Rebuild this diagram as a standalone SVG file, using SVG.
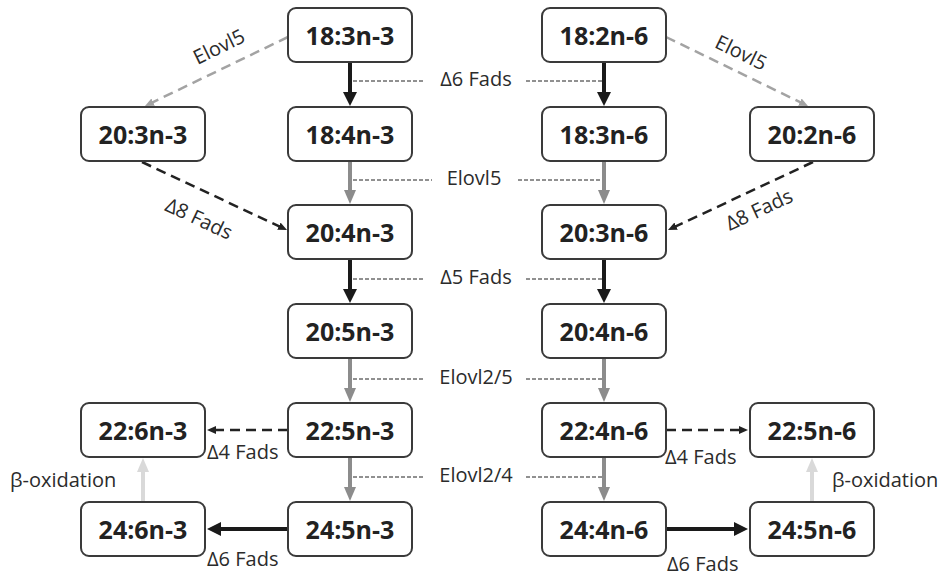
<svg xmlns="http://www.w3.org/2000/svg" width="941" height="578" viewBox="0 0 941 578">
<style>
.box{fill:#fff;stroke:#3a3a3a;stroke-width:2}
.nt{font-family:"Open Sans","Liberation Sans",sans-serif;font-weight:bold;font-size:25px;fill:#222;text-anchor:middle}
.lb{font-family:"Open Sans","Liberation Sans",sans-serif;font-size:20px;fill:#2b2b2b}
.mid{text-anchor:middle}
.blk{stroke:#1a1a1a;stroke-width:4;fill:none}
.gry{stroke:#8c8c8c;stroke-width:4;fill:none}
.lgt{stroke:#d9d9d9;stroke-width:4;fill:none}
.dblk{stroke:#222;stroke-width:2.5;stroke-dasharray:10,6;fill:none}
.dgry{stroke:#a3a3a3;stroke-width:2.5;stroke-dasharray:10,6;fill:none}
.lead{stroke:#222;stroke-width:1;stroke-dasharray:4,2;fill:none}
</style>
<defs>
<marker id="mBlk" markerUnits="userSpaceOnUse" markerWidth="16" markerHeight="16" refX="4" refY="7" orient="auto"><path d="M0,0 L14,7 L0,14 z" fill="#1a1a1a"/></marker>
<marker id="mGry" markerUnits="userSpaceOnUse" markerWidth="16" markerHeight="16" refX="4" refY="6" orient="auto"><path d="M0,0 L14,6 L0,12 z" fill="#8c8c8c"/></marker>
<marker id="mLgt" markerUnits="userSpaceOnUse" markerWidth="16" markerHeight="16" refX="4" refY="6" orient="auto"><path d="M0,0 L14,6 L0,12 z" fill="#d9d9d9"/></marker>
<marker id="mDBlk" markerUnits="userSpaceOnUse" markerWidth="12" markerHeight="12" refX="3" refY="4" orient="auto"><path d="M0,0 L9,4 L0,8 z" fill="#222"/></marker>
<marker id="mDGry" markerUnits="userSpaceOnUse" markerWidth="12" markerHeight="12" refX="3" refY="4" orient="auto"><path d="M0,0 L9,4 L0,8 z" fill="#a3a3a3"/></marker>
</defs>
<rect width="941" height="578" fill="#fff"/>

<g id="connectors">
<line class="blk" x1="350" y1="62" x2="350" y2="96" marker-end="url(#mBlk)"/>
<line class="gry" x1="350" y1="161" x2="350" y2="194" marker-end="url(#mGry)"/>
<line class="blk" x1="350" y1="259" x2="350" y2="293" marker-end="url(#mBlk)"/>
<line class="gry" x1="350" y1="358" x2="350" y2="392" marker-end="url(#mGry)"/>
<line class="gry" x1="350" y1="457" x2="350" y2="491" marker-end="url(#mGry)"/>
<line class="blk" x1="604" y1="62" x2="604" y2="96" marker-end="url(#mBlk)"/>
<line class="gry" x1="604" y1="161" x2="604" y2="194" marker-end="url(#mGry)"/>
<line class="blk" x1="604" y1="259" x2="604" y2="293" marker-end="url(#mBlk)"/>
<line class="gry" x1="604" y1="358" x2="604" y2="392" marker-end="url(#mGry)"/>
<line class="gry" x1="604" y1="457" x2="604" y2="491" marker-end="url(#mGry)"/>
<line class="dgry" x1="288" y1="37" x2="150.4" y2="103.4" marker-end="url(#mDGry)"/>
<line class="dblk" x1="142" y1="162" x2="281.6" y2="227.5" marker-end="url(#mDBlk)"/>
<line class="dgry" x1="666" y1="37" x2="802.6" y2="103.4" marker-end="url(#mDGry)"/>
<line class="dblk" x1="813" y1="162" x2="673.4" y2="227.5" marker-end="url(#mDBlk)"/>
<line class="dblk" x1="288" y1="430" x2="213" y2="430" marker-end="url(#mDBlk)"/>
<line class="blk" x1="288" y1="529" x2="217" y2="529" marker-end="url(#mBlk)"/>
<line class="dblk" x1="666" y1="430" x2="742" y2="430" marker-end="url(#mDBlk)"/>
<line class="blk" x1="666" y1="529" x2="738" y2="529" marker-end="url(#mBlk)"/>
<line class="lgt" x1="143" y1="502" x2="143" y2="468" marker-end="url(#mLgt)"/>
<line class="lgt" x1="812" y1="502" x2="812" y2="468" marker-end="url(#mLgt)"/>
<line class="lead" x1="353" y1="81" x2="424" y2="81"/><line class="lead" x1="526" y1="81" x2="602" y2="81"/>
<line class="lead" x1="353" y1="180" x2="432" y2="180"/><line class="lead" x1="518" y1="180" x2="602" y2="180"/>
<line class="lead" x1="353" y1="279" x2="424" y2="279"/><line class="lead" x1="526" y1="279" x2="602" y2="279"/>
<line class="lead" x1="353" y1="379" x2="424" y2="379"/><line class="lead" x1="526" y1="379" x2="602" y2="379"/>
<line class="lead" x1="353" y1="477" x2="424" y2="477"/><line class="lead" x1="526" y1="477" x2="602" y2="477"/>
<text class="lb mid" x="476" y="86">Δ6 Fads</text>
<text class="lb mid" x="474" y="185">Elovl5</text>
<text class="lb mid" x="476" y="284">Δ5 Fads</text>
<text class="lb mid" x="476" y="384">Elovl2/5</text>
<text class="lb mid" x="476" y="482">Elovl2/4</text>
<text class="lb mid" x="222" y="53" transform="rotate(-26 222 53)">Elovl5</text>
<text class="lb mid" x="196" y="225" transform="rotate(25 196 225)">Δ8 Fads</text>
<text class="lb mid" x="738" y="59" transform="rotate(26 738 59)">Elovl5</text>
<text class="lb mid" x="762" y="216" transform="rotate(-25 762 216)">Δ8 Fads</text>
<text class="lb" x="207" y="459">Δ4 Fads</text>
<text class="lb" x="207" y="566">Δ6 Fads</text>
<text class="lb" x="665" y="464">Δ4 Fads</text>
<text class="lb" x="667" y="571">Δ6 Fads</text>
<text class="lb" x="10" y="487">β-oxidation</text>
<text class="lb" x="832" y="487">β-oxidation</text>
</g>

<g id="n18_3n3"><rect class="box" x="288" y="8" width="124" height="54" rx="8"/><text class="nt" x="350" y="45">18:3n-3</text></g>
<g id="n18_4n3"><rect class="box" x="288" y="107" width="124" height="54" rx="8"/><text class="nt" x="350" y="144">18:4n-3</text></g>
<g id="n20_4n3"><rect class="box" x="288" y="205" width="124" height="54" rx="8"/><text class="nt" x="350" y="242">20:4n-3</text></g>
<g id="n20_5n3"><rect class="box" x="288" y="304" width="124" height="54" rx="8"/><text class="nt" x="350" y="341">20:5n-3</text></g>
<g id="n22_5n3"><rect class="box" x="288" y="403" width="124" height="54" rx="8"/><text class="nt" x="350" y="440">22:5n-3</text></g>
<g id="n24_5n3"><rect class="box" x="288" y="502" width="124" height="54" rx="8"/><text class="nt" x="350" y="539">24:5n-3</text></g>
<g id="n20_3n3"><rect class="box" x="81" y="107" width="124" height="54" rx="8"/><text class="nt" x="143" y="144">20:3n-3</text></g>
<g id="n22_6n3"><rect class="box" x="81" y="403" width="124" height="54" rx="8"/><text class="nt" x="143" y="440">22:6n-3</text></g>
<g id="n24_6n3"><rect class="box" x="81" y="502" width="124" height="54" rx="8"/><text class="nt" x="143" y="539">24:6n-3</text></g>

<g id="n18_2n6"><rect class="box" x="542" y="8" width="124" height="54" rx="8"/><text class="nt" x="604" y="45">18:2n-6</text></g>
<g id="n18_3n6"><rect class="box" x="542" y="107" width="124" height="54" rx="8"/><text class="nt" x="604" y="144">18:3n-6</text></g>
<g id="n20_3n6"><rect class="box" x="542" y="205" width="124" height="54" rx="8"/><text class="nt" x="604" y="242">20:3n-6</text></g>
<g id="n20_4n6"><rect class="box" x="542" y="304" width="124" height="54" rx="8"/><text class="nt" x="604" y="341">20:4n-6</text></g>
<g id="n22_4n6"><rect class="box" x="542" y="403" width="124" height="54" rx="8"/><text class="nt" x="604" y="440">22:4n-6</text></g>
<g id="n24_4n6"><rect class="box" x="542" y="502" width="124" height="54" rx="8"/><text class="nt" x="604" y="539">24:4n-6</text></g>
<g id="n20_2n6"><rect class="box" x="750" y="107" width="124" height="54" rx="8"/><text class="nt" x="812" y="144">20:2n-6</text></g>
<g id="n22_5n6"><rect class="box" x="750" y="403" width="124" height="54" rx="8"/><text class="nt" x="812" y="440">22:5n-6</text></g>
<g id="n24_5n6"><rect class="box" x="750" y="502" width="124" height="54" rx="8"/><text class="nt" x="812" y="539">24:5n-6</text></g>
</svg>
